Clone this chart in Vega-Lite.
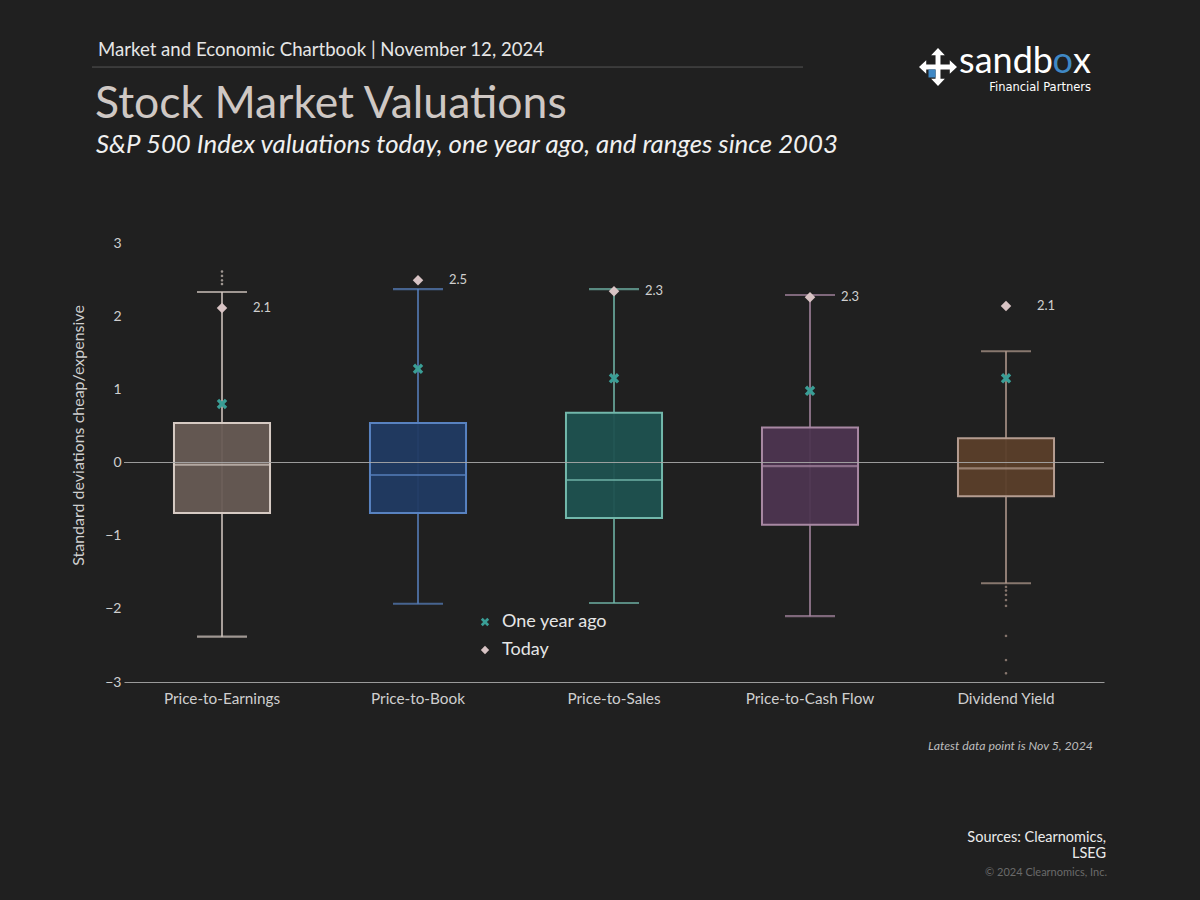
{
  "$schema": "https://vega.github.io/schema/vega-lite/v6.json",
  "width": 980,
  "height": 439,
  "autosize": {"type": "none"},
  "padding": {"left": 124, "top": 243, "right": 96, "bottom": 218},
  "background": "#202020",
  "config": {
    "view": {"stroke": null},
    "font": "Lato",
    "axis": {"grid": false, "ticks": false, "labelFont": "Lato", "titleFont": "Lato"},
    "legend": {"labelFont": "Lato"}
  },
  "datasets": {
    "boxes": [
      {"metric": "Price-to-Earnings", "lower": -2.38, "q1": -0.69, "median": -0.03, "q3": 0.54, "upper": 2.33, "today": 2.11},
      {"metric": "Price-to-Book", "lower": -1.93, "q1": -0.69, "median": -0.17, "q3": 0.54, "upper": 2.37, "today": 2.49},
      {"metric": "Price-to-Sales", "lower": -1.92, "q1": -0.76, "median": -0.24, "q3": 0.68, "upper": 2.37, "today": 2.34},
      {"metric": "Price-to-Cash Flow", "lower": -2.10, "q1": -0.85, "median": -0.05, "q3": 0.48, "upper": 2.29, "today": 2.26},
      {"metric": "Dividend Yield", "lower": -1.65, "q1": -0.46, "median": -0.08, "q3": 0.33, "upper": 1.52, "today": 2.14}
    ],
    "markers": [
      {"metric": "Price-to-Earnings", "series": "One year ago", "value": 0.80},
      {"metric": "Price-to-Book", "series": "One year ago", "value": 1.28},
      {"metric": "Price-to-Sales", "series": "One year ago", "value": 1.15},
      {"metric": "Price-to-Cash Flow", "series": "One year ago", "value": 0.98},
      {"metric": "Dividend Yield", "series": "One year ago", "value": 1.15},
      {"metric": "Price-to-Earnings", "series": "Today", "value": 2.11},
      {"metric": "Price-to-Book", "series": "Today", "value": 2.49},
      {"metric": "Price-to-Sales", "series": "Today", "value": 2.34},
      {"metric": "Price-to-Cash Flow", "series": "Today", "value": 2.26},
      {"metric": "Dividend Yield", "series": "Today", "value": 2.14}
    ],
    "outliers": [
      {"metric": "Price-to-Earnings", "value": 2.44},
      {"metric": "Price-to-Earnings", "value": 2.49},
      {"metric": "Price-to-Earnings", "value": 2.55},
      {"metric": "Price-to-Earnings", "value": 2.61},
      {"metric": "Dividend Yield", "value": -1.70},
      {"metric": "Dividend Yield", "value": -1.75},
      {"metric": "Dividend Yield", "value": -1.81},
      {"metric": "Dividend Yield", "value": -1.88},
      {"metric": "Dividend Yield", "value": -1.96},
      {"metric": "Dividend Yield", "value": -2.37},
      {"metric": "Dividend Yield", "value": -2.70},
      {"metric": "Dividend Yield", "value": -2.88}
    ]
  },
  "layer": [
    {
      "data": {"name": "boxes"},
      "mark": {"type": "rule", "strokeWidth": 1.5},
      "encoding": {
        "x": {
          "field": "metric", "type": "nominal",
          "sort": ["Price-to-Earnings", "Price-to-Book", "Price-to-Sales", "Price-to-Cash Flow", "Dividend Yield"],
          "scale": {"domain": ["Price-to-Earnings", "Price-to-Book", "Price-to-Sales", "Price-to-Cash Flow", "Dividend Yield"], "paddingInner": 0, "paddingOuter": 0},
          "axis": {"title": null, "labelAngle": 0, "labelColor": "#cfcfcf", "labelFontSize": 15.3, "labelPadding": 9, "domainColor": "#9a9a9a", "domainWidth": 1}
        },
        "y": {"field": "lower", "type": "quantitative", "scale": {"domain": [-3, 3], "nice": false, "zero": false},
          "axis": {"values": [-3, -2, -1, 0, 1, 2, 3], "format": "d", "domain": false, "labelColor": "#cfcfcf", "labelFontSize": 14, "labelPadding": 3,
            "title": "Standard deviations cheap/expensive", "titleColor": "#cfcfcf", "titleFontSize": 16, "titleFontWeight": "normal",
            "titleAngle": -90, "titleX": -46, "titleY": 192, "titleAlign": "center", "titleBaseline": "middle"}},
        "y2": {"field": "upper"},
        "stroke": {"field": "metric", "type": "nominal", "legend": null,
          "scale": {"domain": ["Price-to-Earnings", "Price-to-Book", "Price-to-Sales", "Price-to-Cash Flow", "Dividend Yield"], "range": ["#d6cac3", "#5882c0", "#72b8ab", "#a888a3", "#b49c90"]}}
      }
    },
    {
      "data": {"name": "boxes"},
      "mark": {"type": "tick", "size": 48, "thickness": 0.1, "filled": false, "strokeWidth": 2},
      "encoding": {
        "x": {"field": "metric", "type": "nominal"},
        "y": {"field": "lower", "type": "quantitative"},
        "stroke": {"field": "metric", "type": "nominal", "legend": null}
      }
    },
    {
      "data": {"name": "boxes"},
      "mark": {"type": "tick", "size": 48, "thickness": 0.1, "filled": false, "strokeWidth": 2},
      "encoding": {
        "x": {"field": "metric", "type": "nominal"},
        "y": {"field": "upper", "type": "quantitative"},
        "stroke": {"field": "metric", "type": "nominal", "legend": null}
      }
    },
    {
      "data": {"name": "boxes"},
      "mark": {"type": "bar", "width": {"band": 0.49}, "strokeWidth": 2, "fillOpacity": 0.95},
      "encoding": {
        "x": {"field": "metric", "type": "nominal"},
        "y": {"field": "q1", "type": "quantitative"},
        "y2": {"field": "q3"},
        "fill": {"field": "metric", "type": "nominal", "legend": null,
          "scale": {"domain": ["Price-to-Earnings", "Price-to-Book", "Price-to-Sales", "Price-to-Cash Flow", "Dividend Yield"], "range": ["#675b54", "#213b63", "#1f5250", "#4d3550", "#5b3f2a"]}},
        "stroke": {"field": "metric", "type": "nominal", "legend": null}
      }
    },
    {
      "data": {"name": "boxes"},
      "mark": {"type": "tick", "size": 94, "thickness": 0.1, "filled": false, "strokeWidth": 2},
      "encoding": {
        "x": {"field": "metric", "type": "nominal"},
        "y": {"field": "median", "type": "quantitative"},
        "stroke": {"field": "metric", "type": "nominal", "legend": null}
      }
    },
    {
      "data": {"values": [{}]},
      "mark": {"type": "rule", "color": "#a8a8a8", "strokeWidth": 1, "opacity": 0.9},
      "encoding": {"y": {"datum": 0, "type": "quantitative"}}
    },
    {
      "data": {"name": "outliers"},
      "mark": {"type": "point", "filled": false, "size": 2, "shape": "circle", "strokeWidth": 1.2},
      "encoding": {
        "x": {"field": "metric", "type": "nominal"},
        "y": {"field": "value", "type": "quantitative"},
        "stroke": {"field": "metric", "type": "nominal", "legend": null}
      }
    },
    {
      "data": {"name": "markers"},
      "mark": {"type": "point", "filled": true, "opacity": 1, "size": 110},
      "encoding": {
        "x": {"field": "metric", "type": "nominal"},
        "y": {"field": "value", "type": "quantitative"},
        "color": {"field": "series", "type": "nominal",
          "scale": {"domain": ["One year ago", "Today"], "range": ["#3a9e96", "#d8c3c4"]},
          "legend": {"title": null, "orient": "none", "legendX": 352, "legendY": 370, "labelColor": "#e6e6e6", "labelFontSize": 18, "symbolSize": 70, "rowPadding": 10, "labelOffset": 8}},
        "shape": {"field": "series", "type": "nominal",
          "scale": {"domain": ["One year ago", "Today"], "range": ["M-1,-0.55L-0.55,-1L0,-0.45L0.55,-1L1,-0.55L0.45,0L1,0.55L0.55,1L0,0.45L-0.55,1L-1,0.55L-0.45,0Z", "diamond"]},
          "legend": {"title": null, "orient": "none", "legendX": 352, "legendY": 370, "labelColor": "#e6e6e6", "labelFontSize": 18, "symbolSize": 70, "rowPadding": 10, "labelOffset": 8}}
      }
    },
    {
      "data": {"name": "boxes"},
      "mark": {"type": "text", "align": "left", "baseline": "middle", "dx": 31, "fontSize": 13, "color": "#d0d0d0"},
      "encoding": {
        "x": {"field": "metric", "type": "nominal"},
        "y": {"field": "today", "type": "quantitative"},
        "text": {"field": "today", "type": "quantitative", "format": ".1f"}
      }
    },
    {
      "data": {"values": [{}]},
      "mark": {"type": "text", "text": "Market and Economic Chartbook | November 12, 2024", "align": "left", "baseline": "alphabetic", "dx": -124, "fontSize": 18.6, "color": "#e6e6e6"},
      "encoding": {"x": {"datum": "Price-to-Earnings", "type": "nominal"}, "y": {"datum": 5.556, "type": "quantitative"}}
    },
    {
      "data": {"values": [{}]},
      "mark": {"type": "rule", "color": "#555555", "strokeWidth": 1, "xOffset": -32, "x2Offset": -7},
      "encoding": {"x": {"datum": "Price-to-Earnings", "type": "nominal", "bandPosition": 0}, "x2": {"datum": "Price-to-Cash Flow"}, "y": {"datum": 5.405, "type": "quantitative"}}
    },
    {
      "data": {"values": [{}]},
      "mark": {"type": "text", "text": "Stock Market Valuations", "align": "left", "baseline": "alphabetic", "dx": -127, "fontSize": 44.5, "color": "#cfc8c4"},
      "encoding": {"x": {"datum": "Price-to-Earnings", "type": "nominal"}, "y": {"datum": 4.708, "type": "quantitative"}}
    },
    {
      "data": {"values": [{}]},
      "mark": {"type": "text", "text": "S&P 500 Index valuations today, one year ago, and ranges since 2003", "align": "left", "baseline": "alphabetic", "dx": -126, "fontSize": 25.8, "fontStyle": "italic", "color": "#f0f0f0"},
      "encoding": {"x": {"datum": "Price-to-Earnings", "type": "nominal"}, "y": {"datum": 4.23, "type": "quantitative"}}
    },
    {
      "data": {"values": [{}]},
      "mark": {"type": "point", "filled": true, "color": "#ffffff", "opacity": 1, "size": 1444, "xOffset": -68,
        "shape": "M0,-1L0.36,-0.62L0.13,-0.62L0.13,-0.13L0.62,-0.13L0.62,-0.36L1,0L0.62,0.36L0.62,0.13L0.13,0.13L0.13,0.62L0.36,0.62L0,1L-0.36,0.62L-0.13,0.62L-0.13,0.13L-0.62,0.13L-0.62,0.36L-1,0L-0.62,-0.36L-0.62,-0.13L-0.13,-0.13L-0.13,-0.62L-0.36,-0.62Z"},
      "encoding": {"x": {"datum": "Dividend Yield", "type": "nominal"}, "y": {"datum": 5.405, "type": "quantitative"}}
    },
    {
      "data": {"values": [{}]},
      "mark": {"type": "point", "filled": true, "color": "#3f88c5", "opacity": 1, "size": 1444, "xOffset": -68,
        "shape": "M-0.13,0.13L-0.5,0.13L-0.5,0.55L-0.13,0.55Z"},
      "encoding": {"x": {"datum": "Dividend Yield", "type": "nominal"}, "y": {"datum": 5.405, "type": "quantitative"}}
    },
    {
      "data": {"values": [{}]},
      "mark": {"type": "text", "text": "sandb", "align": "right", "baseline": "alphabetic", "dx": 47, "fontSize": 36, "color": "#ffffff"},
      "encoding": {"x": {"datum": "Dividend Yield", "type": "nominal"}, "y": {"datum": 5.325, "type": "quantitative"}}
    },
    {
      "data": {"values": [{}]},
      "mark": {"type": "text", "text": "o", "align": "right", "baseline": "alphabetic", "dx": 67, "fontSize": 36, "color": "#3f88c5"},
      "encoding": {"x": {"datum": "Dividend Yield", "type": "nominal"}, "y": {"datum": 5.325, "type": "quantitative"}}
    },
    {
      "data": {"values": [{}]},
      "mark": {"type": "text", "text": "x", "align": "right", "baseline": "alphabetic", "dx": 85, "fontSize": 36, "color": "#ffffff"},
      "encoding": {"x": {"datum": "Dividend Yield", "type": "nominal"}, "y": {"datum": 5.325, "type": "quantitative"}}
    },
    {
      "data": {"values": [{}]},
      "mark": {"type": "text", "text": "Financial Partners", "align": "right", "baseline": "alphabetic", "dx": 85, "fontSize": 11.5, "font": "DejaVu Sans", "color": "#ffffff"},
      "encoding": {"x": {"datum": "Dividend Yield", "type": "nominal"}, "y": {"datum": 5.075, "type": "quantitative"}}
    },
    {
      "data": {"values": [{}]},
      "mark": {"type": "text", "text": "Latest data point is Nov 5, 2024", "align": "right", "baseline": "alphabetic", "dx": 87, "fontSize": 12.3, "fontStyle": "italic", "color": "#bdbdbd"},
      "encoding": {"x": {"datum": "Dividend Yield", "type": "nominal"}, "y": {"datum": -3.93, "type": "quantitative"}}
    },
    {
      "data": {"values": [{}]},
      "mark": {"type": "text", "text": "Sources: Clearnomics,", "align": "right", "baseline": "alphabetic", "dx": 100, "fontSize": 14.5, "color": "#ebebeb"},
      "encoding": {"x": {"datum": "Dividend Yield", "type": "nominal"}, "y": {"datum": -5.19, "type": "quantitative"}}
    },
    {
      "data": {"values": [{}]},
      "mark": {"type": "text", "text": "LSEG", "align": "right", "baseline": "alphabetic", "dx": 100, "fontSize": 14.5, "color": "#ebebeb"},
      "encoding": {"x": {"datum": "Dividend Yield", "type": "nominal"}, "y": {"datum": -5.41, "type": "quantitative"}}
    },
    {
      "data": {"values": [{}]},
      "mark": {"type": "text", "text": "© 2024 Clearnomics, Inc.", "align": "right", "baseline": "alphabetic", "dx": 101, "fontSize": 11, "color": "#6a6a6a"},
      "encoding": {"x": {"datum": "Dividend Yield", "type": "nominal"}, "y": {"datum": -5.65, "type": "quantitative"}}
    }
  ]
}
